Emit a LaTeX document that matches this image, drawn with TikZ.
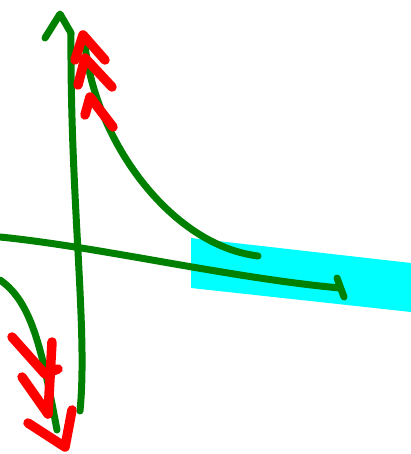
\documentclass[tikz,border=0pt]{standalone}
\usepackage{tikz}

\begin{document}
\begin{tikzpicture}[
    x=1pt, y=-1pt,
    grn/.style={draw={rgb,255:red,0;green,128;blue,0}, line width=7pt, line cap=round, line join=round},
    redmark/.style={draw=red, line width=9.5pt, line cap=round, line join=round},
    band/.style={fill={rgb,255:red,0;green,255;blue,255}, draw=none}
  ]
  \useasboundingbox (0,0) rectangle (411,454);
  % shaded band
  \fill[band] (191,238) -- (411,263) -- (411,312) -- (191,288) -- cycle;
  % axes
  \draw[grn] (80,411) .. controls (88,330) and (70,200) .. (71,33);
  \draw[grn] (45,38) -- (60,14) -- (71,33);
  \draw[grn] (0,237) .. controls (100,247) and (230,278) .. (340,288);
  \draw[grn] (337,278) -- (344,297);
  % upper branch
  \draw[grn] (258,256) .. controls (170,245) and (95,140) .. (85,45);
  % lower branch
  \draw[grn] (0,280) .. controls (32,302) and (42,350) .. (57,430);
  % arrow marks, upper branch
  \draw[redmark] (75,60) -- (83,35) -- (105,60);
  \draw[redmark] (78,85) -- (85,58) -- (112,87);
  \draw[redmark] (85,115) -- (90,97) -- (113,127);
  % arrow marks, lower branch
  \draw[redmark] (12,337) -- (45,374) -- (58,369);
  \draw[redmark] (52,342) -- (50,378) -- (48,414);
  \draw[redmark] (22,377) -- (48,414);
  \draw[redmark] (28,423) -- (65,447) -- (72,410);
\end{tikzpicture}
\end{document}
